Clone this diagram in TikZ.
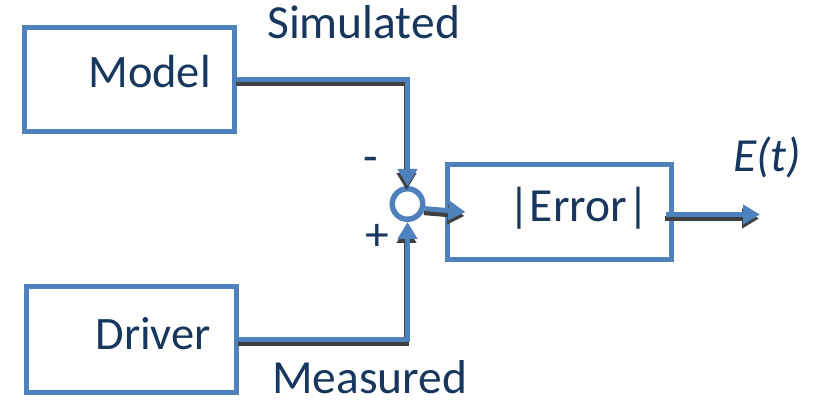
\documentclass[tikz,border=0pt]{standalone}
\usepackage{fontspec}
\setmainfont{Carlito}
\usetikzlibrary{arrows.meta}
\definecolor{lineblue}{HTML}{4F81BD}
\definecolor{textnavy}{HTML}{17375E}
\definecolor{shadowgray}{HTML}{404040}
\begin{document}
\begin{tikzpicture}[x=1pt,y=-1pt,
  blk/.style={draw=lineblue, line width=5pt, inner sep=0pt, fill=white},
  lbl/.style={text=textnavy, font=\fontsize{47.5}{56}\selectfont, inner sep=0pt},
  boxlbl/.style={lbl, font=\fontsize{46.5}{56}\selectfont},
  tip/.style={-{Triangle[length=17pt 0 0, width=19pt 0 0]}},
  wire/.style={draw=lineblue, line width=5pt, tip},
  wireshadow/.style={draw=shadowgray, line width=5pt, tip}
]
\useasboundingbox (0,0) rectangle (814,403);

% blocks
\node[blk, minimum width=210pt, minimum height=104pt] (model) at (129.5,79.5) {};
\node[blk, minimum width=210pt, minimum height=106pt] (driver) at (131.5,339.5) {};
\node[blk, minimum width=224pt, minimum height=95pt] (err) at (559.5,212) {};
\node[circle, draw=lineblue, line width=5.5pt, minimum size=30.5pt, inner sep=0pt] (sum) at (407.5,204) {};

% block texts
\node[boxlbl, anchor=base east] (modeltxt) at (211,88) {Model};
\node[boxlbl, anchor=base east] (drivertxt) at (211,349) {Driver};
\node[lbl, anchor=base] (errtxt) at (578.5,222) {|Error|};

% signal labels
\node[lbl, anchor=base west] (sim) at (267,39) {Simulated};
\node[lbl, anchor=base west] (meas) at (272,393) {Measured};
\node[lbl, anchor=base west, font=\fontsize{47.5}{56}\selectfont\itshape] (et) at (733,172) {E(t)};
\node[lbl] (minus) at (371,165) {-};
\node[lbl] (plus) at (377,237) {+};

% connectors: dark drop shadow first, blue line on top
\coordinate (outend) at (760,214.5);
\begin{scope}[transform canvas={shift={(-1pt,-4pt)}}]
  \draw[wireshadow] (model.east) -| (sum.north);
  \draw[wireshadow] (driver.east) -| (sum.south);
  \draw[wireshadow] (sum.-15) -- ([xshift=20.5pt]err.west);
  \draw[wireshadow] ([shift={(-8pt,-2.5pt)}]err.east) -- (outend);
\end{scope}
\draw[wire] (model.east) -| (sum.north);
\draw[wire] (driver.east) -| (sum.south);
\draw[wire] (sum.-15) -- ([xshift=20.5pt]err.west);
\draw[wire] ([shift={(-8pt,-2.5pt)}]err.east) -- (outend);
\end{tikzpicture}
\end{document}
